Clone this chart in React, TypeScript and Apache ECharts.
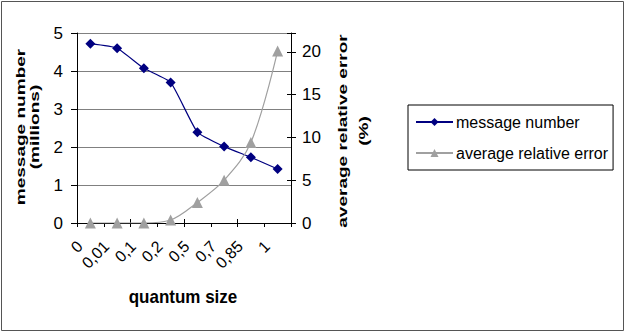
import React, { useEffect, useRef } from "react";
import * as echarts from "echarts";

const categories = ["0", "0,01", "0,1", "0,2", "0,5", "0,7", "0,85", "1"];
const messageNumber = [4.72, 4.6, 4.07, 3.7, 2.39, 2.01, 1.73, 1.42];
const avgRelError = [0, 0, 0, 0.35, 2.4, 5.0, 9.4, 20.1];
const leftTicks = { min: 0, max: 5, interval: 1 };
const rightTicks = { min: 0, max: 22.2, interval: 5 };

const FONT = "'Liberation Sans', Arial, sans-serif";

function vText(text: string, x: number, y: number) {
  return {
    type: "text",
    x,
    y,
    rotation: Math.PI / 2,
    scaleX: 1.12,
    scaleY: 0.78,
    silent: true,
    style: {
      text,
      font: `bold 17px ${FONT}`,
      fill: "#000",
      align: "center",
      verticalAlign: "middle",
    },
  };
}

export default function App() {
  const ref = useRef<HTMLDivElement>(null);
  useEffect(() => {
    document.body.style.margin = "0";
    if (!ref.current) return;
    const chart = echarts.init(ref.current, undefined, { renderer: "svg" });
    const grid = { left: 77, top: 33, width: 214, height: 190 };
    chart.setOption({
      animation: false,
      backgroundColor: "#ffffff",
      textStyle: { fontFamily: FONT },
      grid: { ...grid, containLabel: false },
      legend: {
        orient: "vertical",
        left: 408,
        top: 105,
        padding: [9, 5, 9, 7],
        itemGap: 15,
        itemWidth: 37,
        itemHeight: 10,
        borderColor: "#000",
        borderWidth: 1,
        borderRadius: 0,
        textStyle: { fontSize: 16, color: "#000", fontFamily: FONT, padding: [0, 0, 0, -2] },
        data: ["message number", "average relative error"],
      },
      xAxis: [
        {
          type: "category",
          data: categories,
          boundaryGap: true,
          position: "bottom",
          axisLine: { show: true, lineStyle: { color: "#000", width: 1 } },
          axisTick: { show: true, length: 4, lineStyle: { color: "#000" } },
          axisLabel: {
            rotate: 45,
            fontSize: 16,
            color: "#000",
            margin: 10,
            padding: [0, 15, 0, 0],
            interval: 0,
            fontFamily: FONT,
          },
          splitLine: { show: false },
        },
        {
          type: "category",
          data: categories,
          boundaryGap: true,
          position: "bottom",
          axisLine: { show: false },
          axisTick: { show: true, inside: true, length: 4, lineStyle: { color: "#000" } },
          axisLabel: { show: false },
          splitLine: { show: false },
        },
      ],
      yAxis: [
        {
          type: "value",
          position: "left",
          ...leftTicks,
          axisLine: { show: true, lineStyle: { color: "#000" } },
          axisTick: { show: true, length: 6, lineStyle: { color: "#000" } },
          axisLabel: { fontSize: 17, color: "#000", margin: 14, fontFamily: FONT },
          splitLine: { show: true, lineStyle: { color: "#808080", width: 1 } },
        },
        {
          type: "value",
          position: "right",
          ...rightTicks,
          axisLine: { show: true, lineStyle: { color: "#000" } },
          axisTick: { show: true, length: 5, lineStyle: { color: "#000" } },
          axisLabel: {
            fontSize: 17,
            color: "#000",
            margin: 11,
            fontFamily: FONT,
            formatter: (v: number) => (v % 5 === 0 ? String(v) : ""),
          },
          splitLine: { show: false },
        },
        {
          type: "value",
          position: "right",
          ...rightTicks,
          axisLine: { show: false },
          axisTick: { show: true, inside: true, length: 4, lineStyle: { color: "#000" } },
          axisLabel: { show: false },
          splitLine: { show: false },
        },
      ],
      series: [
        {
          name: "message number",
          type: "line",
          xAxisIndex: 0,
          yAxisIndex: 0,
          data: messageNumber,
          smooth: 0.15,
          symbol: "diamond",
          symbolSize: 10,
          lineStyle: { color: "#000080", width: 1.2 },
          itemStyle: { color: "#000080" },
        },
        {
          name: "average relative error",
          type: "line",
          xAxisIndex: 0,
          yAxisIndex: 1,
          data: avgRelError,
          smooth: 0.35,
          symbol: "triangle",
          symbolSize: 11,
          lineStyle: { color: "#a0a0a0", width: 1.2 },
          itemStyle: { color: "#a0a0a0" },
        },
      ],
      graphic: [
        {
          type: "rect",
          silent: true,
          shape: { x: 1.5, y: 1.5, width: 622, height: 329 },
          style: { fill: "none", stroke: "#555", lineWidth: 1 },
        },
        vText("message number", 20.5, 127),
        vText("(millions)", 34, 127),
        vText("average relative error", 342, 131),
        vText("(%)", 363, 131),
        {
          type: "text",
          x: 183,
          y: 297,
          scaleY: 1.1,
          silent: true,
          style: {
            text: "quantum size",
            font: `bold 17px ${FONT}`,
            fill: "#000",
            align: "center",
            verticalAlign: "middle",
          },
        },
      ],
    });
    return () => chart.dispose();
  }, []);
  return (
    <div
      ref={ref}
      style={{ width: 625, height: 332, position: "absolute", left: 0, top: 0 }}
    />
  );
}
